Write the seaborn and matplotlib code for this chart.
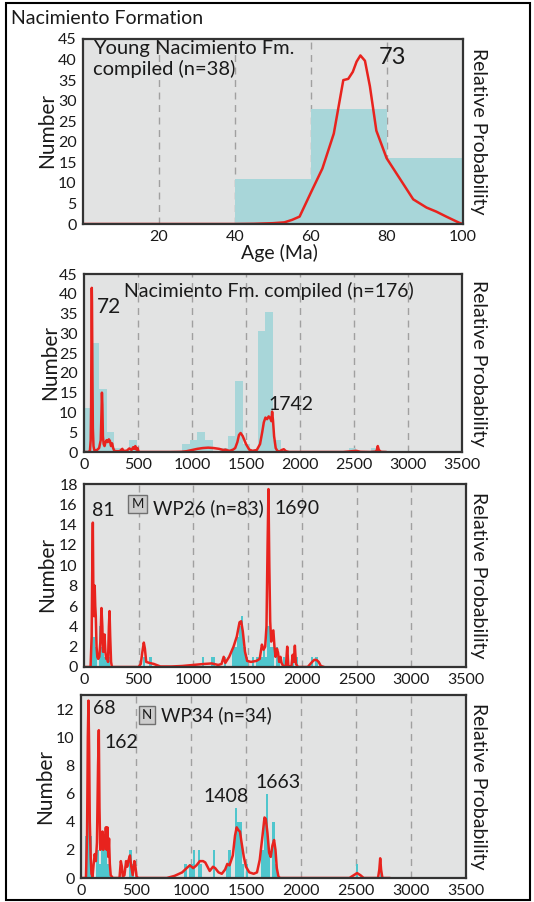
import numpy as np
import pandas as pd
import matplotlib
matplotlib.use("Agg")
import matplotlib.pyplot as plt
import seaborn as sns
from matplotlib.patches import Rectangle

# ---------------- data ----------------
# Panel 1: Young Nacimiento Fm. compiled (n=38)
p1_bin_edges = [0, 20, 40, 60, 80, 100]
p1_counts = [0, 0, 11, 28, 16]
p1_curve_age = [0, 20, 40, 45, 50, 53, 55, 57, 60, 63, 66, 68.5, 69.8, 71, 72, 73, 74.2, 75.5, 77.2, 79.9, 83.4, 86.9, 90.4, 93, 95.6, 99, 100]
p1_curve_val = [0, 0, 0, 0.05, 0.2, 0.4, 1.0, 1.8, 7.7, 13.5, 22, 35, 35.3, 37, 39.5, 41, 39.7, 33.5, 22.7, 16, 11, 6, 4, 3, 1.8, 0.3, 0]

# Panel 2: Nacimiento Fm. compiled (n=176), 70 Ma bins
p2_bin_left = [0, 70, 140, 210, 280, 420, 910, 980, 1050, 1120, 1260, 1330, 1400, 1470, 1610, 1680, 1750, 2450, 2660]
p2_counts = [11, 27.5, 16, 5, 1, 3, 2, 3, 5, 3, 1, 4, 18, 2, 30.5, 35.5, 3, 1, 1]
p2_curve_age = [0, 40, 55, 62, 66, 70, 72, 74, 78, 82, 88, 95, 105, 120, 140, 155, 162, 166, 170, 175, 182, 190, 200, 210, 220, 230, 240, 250, 260, 270, 280, 300, 330, 355, 365, 375, 395, 420, 440, 455, 465, 475, 485, 495, 505, 520, 600, 800, 900, 950, 1000, 1050, 1100, 1150, 1200, 1250, 1290, 1310, 1330, 1350, 1380, 1400, 1420, 1435, 1450, 1470, 1500, 1530, 1560, 1600, 1630, 1650, 1665, 1680, 1695, 1710, 1725, 1735, 1742, 1750, 1760, 1775, 1790, 1810, 1830, 1850, 1870, 1900, 2000, 2400, 2480, 2520, 2560, 2650, 2700, 2712, 2720, 2730, 2750, 2800]
p2_curve_val = [0, 0, 0.3, 3, 12, 35, 41.5, 38, 20, 6, 1.5, 0.5, 0.3, 0.5, 1, 3, 10, 15, 12, 4, 2, 1.5, 2.5, 3, 2.5, 3.2, 2.8, 1.5, 2.2, 1, 0.3, 0.2, 0.2, 0.8, 0.2, 0.3, 0.3, 0.9, 0.5, 1.2, 0.8, 1.5, 0.6, 1, 0.1, 0, 0, 0, 0.05, 0.2, 0.5, 0.8, 1, 1.1, 1, 0.8, 0.5, 0.6, 0.4, 0.3, 0.6, 1, 2.5, 4.3, 4.8, 4, 2, 0.6, 0.3, 0.5, 2, 5, 7.5, 8.7, 8.3, 9, 8.5, 7.8, 10.2, 8, 4, 1, 0.3, 0.1, 0.5, 0.7, 0.2, 0, 0, 0, 0.2, 0.3, 0.05, 0, 0.1, 0.5, 1.5, 0.5, 0.05, 0]

# Panel 3: WP26 (n=83), 20 Ma bins
p3_bin_left = [60, 80, 100, 140, 160, 180, 200, 220, 540, 600, 1080, 1160, 1180, 1280, 1360, 1380, 1400, 1420, 1440, 1460, 1480, 1540, 1580, 1600, 1620, 1640, 1660, 1680, 1700, 1720, 1760, 1780, 1820, 1900, 1940, 2080, 2120]
p3_counts = [5, 3, 2, 4, 2, 1, 1, 1, 1, 1, 1, 1, 1, 1, 2, 2, 3, 4, 5, 2, 1, 1, 1, 1, 1, 2, 1, 4, 2, 2, 2, 1, 1, 1, 1, 1, 1]
p3_curve_age = [0, 60, 70, 76, 81, 86, 92, 98, 103, 108, 115, 122, 130, 140, 150, 160, 168, 174, 180, 188, 196, 204, 212, 220, 228, 234, 240, 248, 256, 500, 520, 535, 548, 558, 570, 600, 640, 700, 800, 900, 1000, 1100, 1170, 1230, 1260, 1280, 1295, 1330, 1370, 1400, 1425, 1440, 1455, 1475, 1495, 1530, 1580, 1610, 1630, 1645, 1660, 1672, 1682, 1690, 1698, 1706, 1715, 1725, 1735, 1745, 1755, 1768, 1778, 1788, 1800, 1810, 1825, 1850, 1862, 1872, 1900, 1912, 1922, 1932, 1942, 1960, 2050, 2090, 2110, 2130, 2150, 2170, 2200]
p3_curve_val = [0, 0, 3, 10, 14.2, 7, 5, 8, 6, 5, 2, 1, 0.8, 1, 2.5, 5.8, 4, 1.5, 1.5, 3.2, 1.5, 0.8, 1, 0.5, 4, 5.5, 3, 0.5, 0, 0, 0.3, 1.5, 2.4, 1.8, 0.5, 0.4, 0.3, 0.05, 0.05, 0.1, 0.2, 0.3, 0.35, 0.2, 0.3, 1.0, 0.4, 1, 2, 3, 4.4, 4.5, 3.5, 1.5, 0.6, 0.5, 0.6, 0.8, 2.2, 1.7, 2.0, 4, 12, 17.5, 10, 4.5, 2.5, 3.5, 3.6, 2, 1, 1.8, 1.4, 0.5, 1.0, 0.4, 0.1, 0.1, 2, 0.1, 0.05, 1.2, 0.5, 2.1, 0.3, 0, 0, 0.5, 0.7, 0.7, 0.5, 0.1, 0]

# Panel 4: WP34 (n=34), 20 Ma bins
p4_bin_left = [40, 60, 80, 140, 160, 180, 200, 220, 240, 440, 460, 940, 980, 1000, 1020, 1060, 1080, 1200, 1320, 1340, 1400, 1420, 1440, 1460, 1500, 1640, 1660, 1680, 1700, 1740, 1760, 2500, 2720]
p4_counts = [3, 5, 3, 2, 1, 2, 3, 2, 1, 2, 1, 1, 1, 1, 2, 2, 1, 2, 1, 2, 5, 4, 4, 1, 1, 2, 4, 6, 2, 4, 1, 1, 1]
p4_curve_age = [0, 45, 55, 62, 68, 74, 80, 88, 95, 105, 115, 125, 135, 145, 155, 162, 168, 175, 182, 188, 195, 202, 210, 218, 226, 233, 240, 248, 255, 262, 270, 290, 350, 362, 372, 380, 395, 410, 420, 430, 445, 455, 470, 485, 495, 505, 520, 780, 850, 920, 960, 990, 1020, 1050, 1080, 1110, 1130, 1150, 1170, 1200, 1220, 1250, 1280, 1310, 1330, 1350, 1380, 1400, 1415, 1430, 1445, 1460, 1480, 1500, 1530, 1570, 1600, 1625, 1650, 1668, 1680, 1695, 1710, 1725, 1740, 1755, 1768, 1780, 1795, 1810, 2440, 2480, 2510, 2540, 2570, 2700, 2712, 2720, 2728, 2740, 2810]
p4_curve_val = [0, 0, 3, 10, 12.6, 9, 4, 1.5, 0.3, 0.1, 1, 1.7, 1.2, 2.5, 8, 10.5, 5, 2, 3, 2.2, 3.3, 2, 3, 2.5, 3.6, 2, 3.6, 1.5, 2.8, 1, 0.2, 0, 0, 1.2, 0.8, 0.1, 0.2, 1.2, 0.8, 1.2, 1.6, 0.9, 0.2, 1.2, 0.8, 0.1, 0, 0, 0.15, 0.4, 0.7, 0.9, 0.7, 0.9, 1.2, 1.2, 1.1, 0.8, 0.5, 0.8, 0.7, 0.4, 0.3, 0.6, 1.0, 0.9, 1.6, 3.0, 3.6, 3.4, 3.3, 2.5, 1.5, 0.8, 0.4, 0.3, 0.4, 1.3, 3.0, 4.3, 4.2, 3.2, 1.8, 1.5, 2.3, 2.7, 2.0, 0.7, 0.1, 0, 0, 0.2, 0.35, 0.2, 0, 0, 0.6, 1.4, 0.6, 0, 0]

old_xticks = [20, 40, 60, 80, 100]
old_yticks = [0, 5, 10, 15, 20, 25, 30, 35, 40, 45]
age_xticks = [0, 500, 1000, 1500, 2000, 2500, 3000, 3500]

# ---------------- style ----------------
sns.set_theme(style="white")
plt.rcParams["font.family"] = ["Lato", "DejaVu Sans"]

BG = "#e2e3e3"
TEAL_LIGHT = "#a8d6d9"
TEAL = "#4fc6cd"
RED = "#e8231e"
GRID = "#a0a0a0"
SPINE = "#333333"
TXT = "#1a1a1a"

W, H = 534, 902
fig = plt.figure(figsize=(W / 100, H / 100), dpi=100)
fig.patch.set_facecolor("white")


def fx(x):
    return x / W


def fy(y):
    return 1 - y / H


def ax_at(l, t, r, b):
    return fig.add_axes([l / W, 1 - b / H, (r - l) / W, (b - t) / H])


def panel(ax, edges, centers, counts, bar_color, cx, cy, xlim, ylim, xticks, yticks, grid):
    ax.set_facecolor(BG)
    for g in grid:
        ax.axvline(g, color=GRID, lw=1.0, ls=(0, (5, 4)), zorder=0.5)
    hist_df = pd.DataFrame({"age": list(centers), "n": list(counts)})
    sns.histplot(data=hist_df, x="age", weights="n", bins=[float(v) for v in edges],
                 color=bar_color, alpha=1, linewidth=0, edgecolor=bar_color, ax=ax, zorder=1)
    curve_df = pd.DataFrame({"age": cx, "p": cy})
    sns.lineplot(data=curve_df, x="age", y="p", color=RED, lw=1.8, ax=ax, sort=False,
                 estimator=None, zorder=3)
    ax.set_xlim(*xlim)
    ax.set_ylim(*ylim)
    ax.set_xticks(xticks)
    ax.set_yticks(yticks)
    ax.set_xlabel("")
    ax.set_ylabel("")
    for s in ax.spines.values():
        s.set_color(SPINE)
        s.set_linewidth(1.6)
        s.set_zorder(5)
    ax.tick_params(axis="both", direction="out", length=3, width=0.9, colors=SPINE,
                   labelcolor=TXT, labelsize=11.5, pad=1.5)
    ax.grid(False)


# Panel 1
ax1 = ax_at(83, 39, 463, 224)
e1 = np.array(p1_bin_edges, dtype=float)
c1 = (e1[:-1] + e1[1:]) / 2
panel(ax1, e1, c1, p1_counts, TEAL_LIGHT, p1_curve_age, p1_curve_val,
      (0, 100), (0, 45), old_xticks, old_yticks, [20, 40, 60, 80])

# Panel 2
ax2 = ax_at(84, 274, 462, 452)
e2 = np.arange(0, 3500 + 70, 70, dtype=float)
c2 = np.array(p2_bin_left, dtype=float) + 35
panel(ax2, e2, c2, p2_counts, TEAL_LIGHT, p2_curve_age, p2_curve_val,
      (0, 3500), (0, 45), age_xticks, old_yticks, [500, 1000, 1500, 2000, 2500, 3000])

# Panel 3
ax3 = ax_at(84, 484, 466, 667)
e3 = np.arange(0, 3500 + 20, 20, dtype=float)
c3 = np.array(p3_bin_left, dtype=float) + 10
panel(ax3, e3, c3, p3_counts, TEAL, p3_curve_age, p3_curve_val,
      (0, 3500), (0, 18), age_xticks, list(range(0, 19, 2)), [500, 1000, 1500, 2000, 2500, 3000])

# Panel 4
ax4 = ax_at(81, 695, 466, 878)
e4 = np.arange(0, 3500 + 20, 20, dtype=float)
c4 = np.array(p4_bin_left, dtype=float) + 10
panel(ax4, e4, c4, p4_counts, TEAL, p4_curve_age, p4_curve_val,
      (0, 3500), (0, 13), age_xticks, list(range(0, 13, 2)), [500, 1000, 1500, 2000, 2500, 3000])

# ---------------- text ----------------
fig.text(fx(11), fy(18), "Nacimiento Formation", fontsize=14, color=TXT, va="center", ha="left")

for xc, yc in [(47, 131), (50, 363), (47, 575), (45, 786)]:
    fig.text(fx(xc), fy(yc), "Number", fontsize=15, color=TXT, rotation=90, ha="center", va="center")
    fig.text(fx(478), fy(yc), "Relative Probability", fontsize=14, color=TXT, rotation=270,
             ha="center", va="center")

fig.text(fx(279), fy(253), "Age (Ma)", fontsize=14, color=TXT, ha="center", va="center")

fig.text(fx(93), fy(59), "Young Nacimiento Fm.\ncompiled (n=38)", fontsize=14.5, color=TXT,
         ha="left", va="center", linespacing=1.15)
fig.text(fx(393), fy(58), "73", fontsize=17, color=TXT, ha="center", va="center")

fig.text(fx(124), fy(291), "Nacimiento Fm. compiled (n=176)", fontsize=14, color=TXT, ha="left", va="center")
fig.text(fx(97), fy(307), "72", fontsize=15, color=TXT, ha="left", va="center")
fig.text(fx(268), fy(404), "1742", fontsize=14, color=TXT, ha="left", va="center")

box_kw = dict(boxstyle="square,pad=0.25", fc="#cdcdcd", ec="#707070", lw=1.0)
fig.text(fx(137.5), fy(504), "M", fontsize=9.5, color=TXT, ha="center", va="center", bbox=box_kw)
fig.text(fx(153), fy(508), "WP26 (n=83)", fontsize=13.5, color=TXT, ha="left", va="center")
fig.text(fx(92), fy(511), "81", fontsize=14, color=TXT, ha="left", va="center")
fig.text(fx(274), fy(509), "1690", fontsize=14, color=TXT, ha="left", va="center")

fig.text(fx(147), fy(715), "N", fontsize=9.5, color=TXT, ha="center", va="center", bbox=box_kw)
fig.text(fx(161), fy(715), "WP34 (n=34)", fontsize=13.5, color=TXT, ha="left", va="center")
fig.text(fx(93), fy(708), "68", fontsize=14, color=TXT, ha="left", va="center")
fig.text(fx(104), fy(743), "162", fontsize=14, color=TXT, ha="left", va="center")
fig.text(fx(203), fy(797), "1408", fontsize=14, color=TXT, ha="left", va="center")
fig.text(fx(255), fy(783), "1663", fontsize=14, color=TXT, ha="left", va="center")

# outer frame
fig.add_artist(Rectangle((fx(6), fy(900)), (530 - 6) / W, (900 - 3) / H, fill=False,
                         lw=1.5, ec="black", transform=fig.transFigure))

fig.savefig("out.png", dpi=100)
